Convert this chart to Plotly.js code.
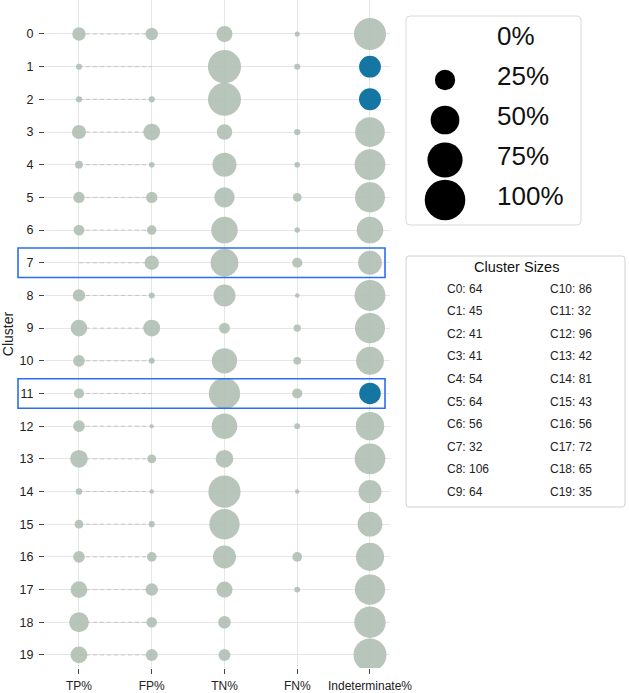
<!DOCTYPE html>
<html>
<head>
<meta charset="utf-8">
<script src="https://cdn.plot.ly/plotly-3.0.1.min.js"></script>
<style>html,body{margin:0;padding:0;background:#fff;}#chart{width:629px;height:693px;}</style>
</head>
<body>
<div id="chart"></div>
<script>
// ---- data ----
var metrics = ['TP%', 'FP%', 'TN%', 'FN%', 'Indeterminate%'];
var clusters = [0,1,2,3,4,5,6,7,8,9,10,11,12,13,14,15,16,17,18,19];
var tpPct  = [10.9, 2.2, 2.4, 12.2, 3.7, 7.8, 7.1, 0,    9.2, 16.9, 8.3, 6.3, 8.3, 19.0, 2.5, 4.7, 8.3, 17.0, 23.8, 17.1];
var fpPct  = [9.4,  0,   2.4, 17.1, 1.9, 7.8, 5.4, 12.5, 2.2, 17.5, 2.2, 0,   1.0, 4.8,  1.2, 2.3, 5.7, 9.5,  6.8,  8.6];
var tnPct  = [15.6, 66.7,65.9,14.6, 35.2,25.0,42.9,46.9, 29.4, 7.3, 38.8,59.4,39.6,19.0, 63.0,55.8,32.1,15.7, 9.6,  8.6];
var fnPct  = [1.6,  2.2, 0,   2.4,  1.9, 4.7, 1.8, 6.3,  1.3, 3.3,  3.6, 6.3, 2.1, 0,    1.2, 0,   5.7, 2.1,  0,    0];
var indPct = [62.5, 28.9,29.3,53.7, 57.4,54.7,42.9,34.4, 57.9, 55.0,47.1,28.1,49.0,57.1, 32.1,37.2,48.2,55.7, 59.8, 65.7];
var blueIndRows = [1, 2, 11];
var highlightRows = [7, 11];
var sizeLegendValues = [0, 25, 50, 75, 100];
var sizeLegendLabels = ['0%', '25%', '50%', '75%', '100%'];
var clusterSizes = [64,45,41,41,54,64,56,32,106,64,86,32,96,42,81,43,56,72,65,35];

// ---- styling ----
var GRAY = 'rgba(176,191,180,0.9)';
var BLUE = 'rgba(4,108,156,0.93)';
var SIZEREF = 0.1213;
var FONT = 'Liberation Sans, Arial, sans-serif';
var W = 629, H = 693;
function px(x){ return x / W; }
function py(y){ return 1 - y / H; }

var series = [tpPct, fpPct, tnPct, fnPct, indPct];
var traces = [];

// dashed connectors TP -> FP
clusters.forEach(function(c){
  traces.push({
    type: 'scatter', mode: 'lines',
    x: [metrics[0], metrics[1]], y: [c, c],
    line: {color: 'rgba(185,185,185,0.75)', width: 1, dash: '4px,3px'},
    hoverinfo: 'skip', showlegend: false, xaxis: 'x', yaxis: 'y'
  });
});

// bubbles
series.forEach(function(vals, mi){
  traces.push({
    type: 'scatter', mode: 'markers',
    x: clusters.map(function(){ return metrics[mi]; }),
    y: clusters,
    marker: {
      size: vals, opacity: 1,
      sizemode: 'area', sizeref: SIZEREF,
      color: clusters.map(function(c){ return (mi === 4 && blueIndRows.indexOf(c) >= 0) ? BLUE : GRAY; }),
      line: {width: 0}
    },
    showlegend: false, xaxis: 'x', yaxis: 'y'
  });
});

// size legend (own small subplot)
traces.push({
  type: 'scatter', mode: 'markers',
  x: sizeLegendValues.map(function(){ return 0.223; }),
  y: sizeLegendValues.map(function(v, i){ return i; }),
  marker: {size: sizeLegendValues, opacity: 1, sizemode: 'area', sizeref: SIZEREF, color: '#000', line: {width: 0}},
  showlegend: false, xaxis: 'x2', yaxis: 'y2', hoverinfo: 'skip'
});
traces.push({
  type: 'scatter', mode: 'text',
  x: sizeLegendLabels.map(function(){ return 0.52; }),
  y: sizeLegendLabels.map(function(v, i){ return i - 0.03; }),
  text: sizeLegendLabels, textposition: 'middle right',
  textfont: {family: FONT, size: 26, color: '#111'},
  showlegend: false, xaxis: 'x2', yaxis: 'y2', hoverinfo: 'skip'
});

function roundRect(x0, y0, x1, y1, r){
  // pixel coords -> paper path with rounded corners
  var rx = r / W, ry = r / H;
  var X0 = px(x0), X1 = px(x1), Y0 = py(y0), Y1 = py(y1);
  return 'M' + (X0+rx) + ',' + Y0 + ' L' + (X1-rx) + ',' + Y0 +
    ' Q' + X1 + ',' + Y0 + ' ' + X1 + ',' + (Y0-ry) +
    ' L' + X1 + ',' + (Y1+ry) + ' Q' + X1 + ',' + Y1 + ' ' + (X1-rx) + ',' + Y1 +
    ' L' + (X0+rx) + ',' + Y1 + ' Q' + X0 + ',' + Y1 + ' ' + X0 + ',' + (Y1+ry) +
    ' L' + X0 + ',' + (Y0-ry) + ' Q' + X0 + ',' + Y0 + ' ' + (X0+rx) + ',' + Y0 + ' Z';
}

var shapes = [];
highlightRows.forEach(function(r){
  shapes.push({
    type: 'rect', xref: 'paper', yref: 'y',
    x0: px(18), x1: px(385), y0: r - 0.45, y1: r + 0.45,
    line: {color: '#2a6ff0', width: 1.6}, fillcolor: 'rgba(0,0,0,0)', layer: 'above'
  });
});
shapes.push({type: 'path', xref: 'paper', yref: 'paper', path: roundRect(406, 16, 581, 225, 4),
  line: {color: '#d9d9d9', width: 1}, fillcolor: 'rgba(0,0,0,0)'});
shapes.push({type: 'path', xref: 'paper', yref: 'paper', path: roundRect(406, 256, 625, 507, 3),
  line: {color: '#d0d0d0', width: 1}, fillcolor: 'rgba(0,0,0,0)'});

var annotations = [];
annotations.push({xref: 'paper', yref: 'paper', x: px(516), y: py(267), text: 'Cluster Sizes',
  showarrow: false, xanchor: 'center', yanchor: 'middle', font: {family: FONT, size: 14.5, color: '#111'}});
clusterSizes.forEach(function(n, i){
  var col = i < 10 ? 0 : 1;
  var row = i % 10;
  annotations.push({xref: 'paper', yref: 'paper',
    x: px(col === 0 ? 445 : 548), y: py(288.5 + 22.6 * row),
    text: 'C' + i + ': ' + n, showarrow: false, xanchor: 'left', yanchor: 'middle',
    font: {family: FONT, size: 12, color: '#222'}});
});

var layout = {
  width: W, height: H,
  margin: {l: 0, r: 0, t: 0, b: 0},
  paper_bgcolor: '#fff', plot_bgcolor: '#fff',
  showlegend: false,
  font: {family: FONT, color: '#222'},
  xaxis: {
    domain: [px(45), px(390)],
    type: 'category', categoryorder: 'array', categoryarray: metrics,
    range: [-0.467, 4.275],
    showgrid: true, gridcolor: '#e6e6e6', gridwidth: 1,
    zeroline: false, showline: false,
    ticks: 'outside', ticklen: 5, tickcolor: '#444', tickwidth: 1,
    ticklabelstandoff: 2,
    tickfont: {family: FONT, size: 12, color: '#222'}
  },
  yaxis: {
    domain: [py(668), 1],
    range: [19.4, -1.04],
    tickmode: 'array', tickvals: clusters, ticktext: clusters.map(String),
    showgrid: true, gridcolor: '#e6e6e6', gridwidth: 1,
    zeroline: false, showline: false,
    ticks: 'outside', ticklen: 5, tickcolor: '#444', tickwidth: 1,
    ticklabelstandoff: 3,
    tickfont: {family: FONT, size: 12.5, color: '#222'},
    title: {text: 'Cluster', font: {family: FONT, size: 14, color: '#222'}, standoff: 4}
  },
  xaxis2: {domain: [px(406), px(581)], range: [0, 1], visible: false, fixedrange: true},
  yaxis2: {domain: [py(225), py(16)], range: [4.625, -0.6], visible: false, fixedrange: true},
  shapes: shapes,
  annotations: annotations
};

Plotly.newPlot('chart', traces, layout, {displayModeBar: false, staticPlot: true});
</script>
</body>
</html>
